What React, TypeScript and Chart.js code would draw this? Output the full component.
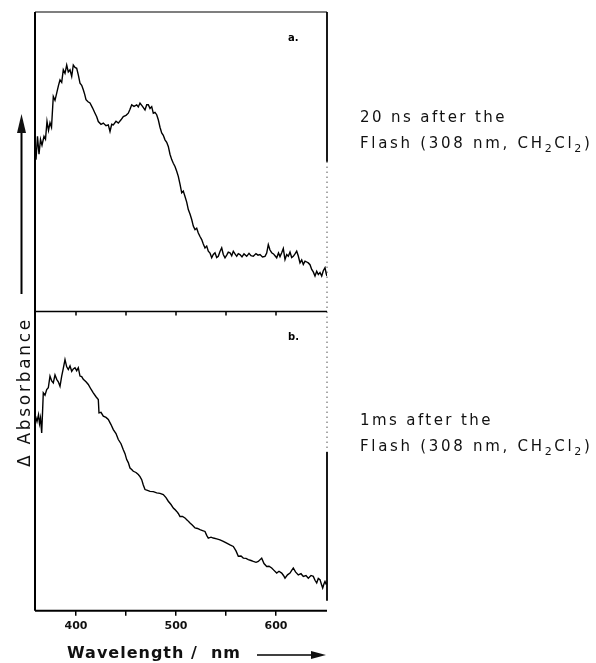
import React, { useEffect, useRef } from 'react';
import { Chart, registerables } from 'chart.js';

Chart.register(...registerables);

// ---- data ----
const wavelengthA = [360, 361.5, 363, 364.5, 366, 368, 369.5, 371, 372.5, 374, 375.5, 377.3, 379, 380.7, 382.5, 384, 385.7, 387.3, 389, 390.7, 392.3, 394, 395.7, 397.3, 399, 400.7, 402.3, 404, 405.7, 407.3, 408.7, 410, 412, 414, 416.5, 419, 420.7, 422.3, 425, 427.3, 430, 432.3, 434, 435.7, 437.3, 440, 442.3, 445, 447.3, 450, 452.3, 454, 455.7, 458, 460.7, 462.3, 464, 466.5, 469, 470.7, 472.3, 474, 475.7, 477.3, 479, 480.7, 482.3, 484, 485.7, 487.3, 489, 490.7, 492.3, 494, 495.7, 497.3, 499, 500.7, 502.3, 504, 505.7, 507.3, 509, 510.7, 512.3, 514, 515.7, 517.3, 519, 520.7, 522.3, 524, 525.7, 527.3, 529, 530.7, 532.3, 534, 535.7, 537.3, 539, 540.7, 542.3, 544, 545.7, 547.3, 549, 550.7, 552.3, 554, 555.7, 557.3, 559, 560.7, 562.3, 564, 566, 568, 570.7, 573, 575, 577.3, 580, 582, 584, 586.5, 589, 590.7, 592.3, 594, 595.7, 597.5, 599, 600.7, 602.5, 604, 605.7, 607.3, 609, 610.7, 612.3, 614, 615.7, 617.3, 619, 620.7, 622.3, 624, 625.7, 627.3, 629, 630.7, 632.3, 634, 635.7, 637.3, 639, 640.7, 642.3, 644, 645.7, 647.3, 649, 650.3, 651];
const absorbanceA = [50.7, 58.5, 52.5, 57.5, 55.5, 58.5, 57.5, 63.5, 60.5, 63, 61.5, 71.8, 70.5, 72.9, 75.5, 77.3, 76.5, 80.7, 79.5, 82.3, 80, 80.7, 78.5, 82.3, 81.5, 81.2, 79, 76.2, 75.5, 74, 72.5, 70.7, 70, 69.6, 68, 66.2, 65, 63.4, 62.5, 62.9, 62, 62.3, 60.1, 62.5, 62.3, 63.5, 62.9, 64, 65.1, 65.5, 66.2, 67.5, 69, 68.5, 69, 68.3, 69.6, 68.5, 67.3, 69, 69, 67.8, 68.4, 66.2, 66.5, 65.7, 64, 61.5, 59.6, 58.8, 57.3, 56.5, 55.1, 52.5, 50.7, 49.5, 48.4, 46.8, 45.1, 42.5, 39.6, 40.2, 38.4, 36.5, 34, 32.5, 30.7, 28.5, 27.3, 27.8, 26.2, 25, 24, 22.5, 21.2, 21.8, 20.1, 19.5, 17.9, 19, 19.6, 18, 18.4, 20, 21.2, 19, 17.9, 18.8, 19.8, 19.6, 18.6, 20.1, 19.2, 18.4, 19.3, 19, 18.2, 19.2, 18.4, 19.4, 18.6, 18.4, 19.3, 18.8, 19, 18.2, 18.4, 19.5, 22.3, 20.5, 19.6, 19.2, 18.6, 17.9, 19.5, 18.3, 19.6, 21, 17.3, 19, 18.4, 19.8, 18, 18.4, 19.2, 20.1, 18.5, 16.2, 17.2, 15.7, 16.8, 16.5, 16.2, 15.6, 14, 13.2, 11.8, 13.4, 12.3, 13, 11.8, 13.6, 14.6, 12.5, 11.8];

const wavelengthB = [359.5, 361, 362.5, 363.5, 364.5, 365.7, 366.5, 367.3, 369, 370.7, 372.3, 374, 375.7, 377.3, 379, 380.7, 382.3, 384, 385.7, 387.3, 389, 390.7, 392.3, 394, 395.7, 397.3, 399, 400.7, 402.3, 404, 405.7, 407.3, 410, 412.3, 415, 417.3, 420, 422.3, 423, 425, 427.3, 430, 432.3, 435, 437.3, 440, 442.3, 445, 447.3, 449, 450.7, 452.3, 454, 455.7, 457.3, 460, 462.3, 464, 465.7, 467.3, 469, 471.5, 474, 477.3, 480.7, 484, 487.3, 490, 492.3, 495, 497.3, 499, 500.7, 502.3, 504, 506.5, 509, 511.5, 514, 516.5, 519, 521.5, 524, 526.5, 529, 530.7, 532.3, 535, 537.3, 540.7, 544, 547.3, 550.7, 554, 557.3, 560, 562.3, 565, 567.3, 570, 572.3, 575, 577.3, 580, 582.3, 585.7, 588, 590.7, 593, 595.7, 598, 600.7, 603, 605.7, 607.5, 609, 611.5, 614, 615.7, 617.3, 619.5, 622.3, 625, 627.3, 630, 632.3, 635, 637.3, 639, 640.7, 642.3, 644, 645.5, 646.7, 648, 649, 650, 651];
const absorbanceB = [65, 63.2, 65.5, 62.5, 64.4, 59.4, 66, 72.8, 72, 73.9, 74.5, 78.4, 76.8, 76.1, 78.8, 77.3, 76.5, 75, 78.4, 81, 83.9, 81.5, 80.6, 81.8, 80, 80.8, 81.2, 80.2, 81.2, 78.4, 78.2, 77.3, 76.5, 75.6, 74, 72.8, 71.5, 70.6, 66.1, 66.3, 65, 64.6, 63.9, 62.2, 60.5, 59.2, 57.2, 55.8, 53.8, 52.5, 50.5, 49.5, 47.7, 47.2, 46.6, 46.2, 45.5, 44.8, 43.8, 42, 40.5, 40.2, 39.9, 39.8, 39.4, 39.2, 38.8, 37.8, 36.6, 35.5, 34.3, 33.8, 33.2, 32.5, 31.5, 31.5, 31, 30.2, 29.3, 28.6, 27.7, 27.5, 27.1, 26.8, 26.5, 25.2, 24.3, 24.6, 24.3, 24, 23.7, 23.2, 22.6, 22, 21.5, 20, 18.2, 18.3, 17.6, 17.5, 17.1, 16.8, 16.5, 16.2, 16.5, 17.6, 15.8, 14.8, 14.9, 14.3, 13.5, 12.6, 13.2, 12.6, 11.8, 10.9, 12, 12.6, 13.5, 14.3, 13, 12, 12.4, 11.5, 11.8, 10.9, 11.8, 11.5, 10.2, 9.3, 10.8, 10.4, 8.8, 7.6, 9.0, 9.8, 9.0, 9.3];

const xTickValues = [400, 450, 500, 550, 600];
const xTickLabels = ['400', '', '500', '', '600'];
const panelLabels = ['a.', 'b.'];
const captionTopLine1 = '20 ns after the';
const captionBottomLine1 = '1ms after the';
// caption line 2 as [text, isSubscript] segments
const captionLine2: [string, boolean][] = [
  ['Flash (308 nm, CH', false],
  ['2', true],
  ['Cl', false],
  ['2', true],
  [')', false],
];
const yTitle = 'Δ Absorbance';
const xTitle = 'Wavelength /  nm';

const FONT = '"DejaVu Sans", "Liberation Sans", sans-serif';

function drawLine(ctx: CanvasRenderingContext2D, x1: number, y1: number, x2: number, y2: number, w: number, dash: number[] = []) {
  ctx.save();
  ctx.beginPath();
  ctx.lineWidth = w;
  ctx.setLineDash(dash);
  ctx.moveTo(x1, y1);
  ctx.lineTo(x2, y2);
  ctx.stroke();
  ctx.restore();
}

function drawCaptionLine2(ctx: CanvasRenderingContext2D, x: number, y: number) {
  let cx = x;
  for (const [txt, sub] of captionLine2) {
    ctx.font = sub ? `11px ${FONT}` : `15px ${FONT}`;
    ctx.fillText(txt, cx, sub ? y + 5 : y);
    cx += ctx.measureText(txt).width;
  }
}

const decorPlugin = {
  id: 'decor',
  afterDraw(chart: any) {
    const ctx: CanvasRenderingContext2D = chart.ctx;
    const { left, right, top, bottom } = chart.chartArea;
    const mid = chart.scales.yA.bottom;
    const xs = chart.scales.x;
    ctx.save();
    ctx.strokeStyle = '#000';
    ctx.fillStyle = '#000';

    // frame
    drawLine(ctx, left, top, left, bottom, 2);
    drawLine(ctx, left, top, right, top, 1.2);
    drawLine(ctx, left, mid, right, mid, 1.5);
    drawLine(ctx, left, bottom, right, bottom, 2);
    // right border (scan is partly faded)
    const rTopSolidEnd = top + (mid - top) * 0.5;
    const rBotSolidStart = mid + (bottom - mid) * 0.47;
    drawLine(ctx, right, top, right, rTopSolidEnd, 1.8);
    drawLine(ctx, right, rTopSolidEnd, right, rBotSolidStart, 1, [1, 4]);
    drawLine(ctx, right, rBotSolidStart, right, bottom - 10, 1.8);

    // ticks on separator
    for (const v of xTickValues) {
      const px = xs.getPixelForValue(v);
      drawLine(ctx, px, mid, px, mid + 4, 1.5);
    }

    // panel labels
    ctx.font = `bold 10px ${FONT}`;
    ctx.textBaseline = 'middle';
    ctx.textAlign = 'left';
    ctx.fillText(panelLabels[0], right - 39, top + 26);
    ctx.fillText(panelLabels[1], right - 39, mid + 26);

    // captions
    ctx.fillStyle = '#111';
    (ctx as any).letterSpacing = '2.4px';
    ctx.font = `15px ${FONT}`;
    ctx.fillText(captionTopLine1, 360, 118);
    ctx.fillText(captionBottomLine1, 360, 421);
    (ctx as any).letterSpacing = '2.7px';
    drawCaptionLine2(ctx, 360, 144);
    drawCaptionLine2(ctx, 360, 447);

    // y title + arrow
    ctx.save();
    ctx.translate(26, 392);
    ctx.rotate(-Math.PI / 2);
    (ctx as any).letterSpacing = '2.7px';
    ctx.font = `17px ${FONT}`;
    ctx.textAlign = 'center';
    ctx.textBaseline = 'middle';
    ctx.fillText(yTitle, 0, 0);
    ctx.restore();
    drawLine(ctx, 21.5, 294, 21.5, 130, 2);
    ctx.beginPath();
    ctx.moveTo(21.5, 114);
    ctx.lineTo(17, 133);
    ctx.lineTo(26, 133);
    ctx.closePath();
    ctx.fill();

    // x title + arrow
    (ctx as any).letterSpacing = '1px';
    ctx.font = `bold 16px ${FONT}`;
    ctx.textAlign = 'left';
    ctx.textBaseline = 'middle';
    ctx.fillText(xTitle, 67, 654);
    drawLine(ctx, 257, 655, 314, 655, 1.3);
    ctx.beginPath();
    ctx.moveTo(326, 655);
    ctx.lineTo(311, 651);
    ctx.lineTo(311, 659);
    ctx.closePath();
    ctx.fill();

    ctx.restore();
  },
};

export default function App() {
  const canvasRef = useRef<HTMLCanvasElement | null>(null);

  useEffect(() => {
    const canvas = canvasRef.current;
    if (!canvas) return;
    const chart = new Chart(canvas, {
      type: 'line',
      data: {
        datasets: [
          {
            label: 'a',
            data: wavelengthA.map((x, i) => ({ x, y: absorbanceA[i] })),
            xAxisID: 'x',
            yAxisID: 'yA',
            borderColor: '#000',
            borderWidth: 1.4,
            pointRadius: 0,
            tension: 0,
          },
          {
            label: 'b',
            data: wavelengthB.map((x, i) => ({ x, y: absorbanceB[i] })),
            xAxisID: 'x',
            yAxisID: 'yB',
            borderColor: '#000',
            borderWidth: 1.4,
            pointRadius: 0,
            tension: 0,
          },
        ],
      },
      options: {
        responsive: false,
        animation: false,
        devicePixelRatio: 1,
        layout: { padding: { left: 35, right: 269, top: 12, bottom: 26 } },
        plugins: { legend: { display: false }, tooltip: { enabled: false } },
        scales: {
          x: {
            type: 'linear',
            position: 'bottom',
            min: 359,
            max: 651,
            border: { display: false },
            grid: { display: true, drawOnChartArea: false, drawTicks: true, tickLength: 5, color: '#000', lineWidth: 1.5 },
            afterBuildTicks: (scale: any) => {
              scale.ticks = xTickValues.map((v) => ({ value: v }));
            },
            ticks: {
              autoSkip: false,
              maxRotation: 0,
              padding: 4,
              color: '#111',
              font: { family: FONT, size: 11, weight: 'bold' },
              callback: (value: any) => {
                const i = xTickValues.indexOf(Number(value));
                return i >= 0 ? xTickLabels[i] : '';
              },
            },
          },
          yB: {
            type: 'linear',
            axis: 'y',
            position: 'left',
            min: 0,
            max: 100,
            display: false,
            stack: 'absorbance',
            stackWeight: 1,
          },
          yA: {
            type: 'linear',
            axis: 'y',
            position: 'left',
            min: 0,
            max: 100,
            display: false,
            stack: 'absorbance',
            stackWeight: 1,
          },
        },
      } as any,
      plugins: [decorPlugin],
    });
    return () => chart.destroy();
  }, []);

  return (
    <div style={{ position: 'absolute', left: 0, top: 0, width: 596, height: 663, background: '#fff' }}>
      <canvas ref={canvasRef} width={596} height={663} style={{ display: 'block' }} />
    </div>
  );
}
